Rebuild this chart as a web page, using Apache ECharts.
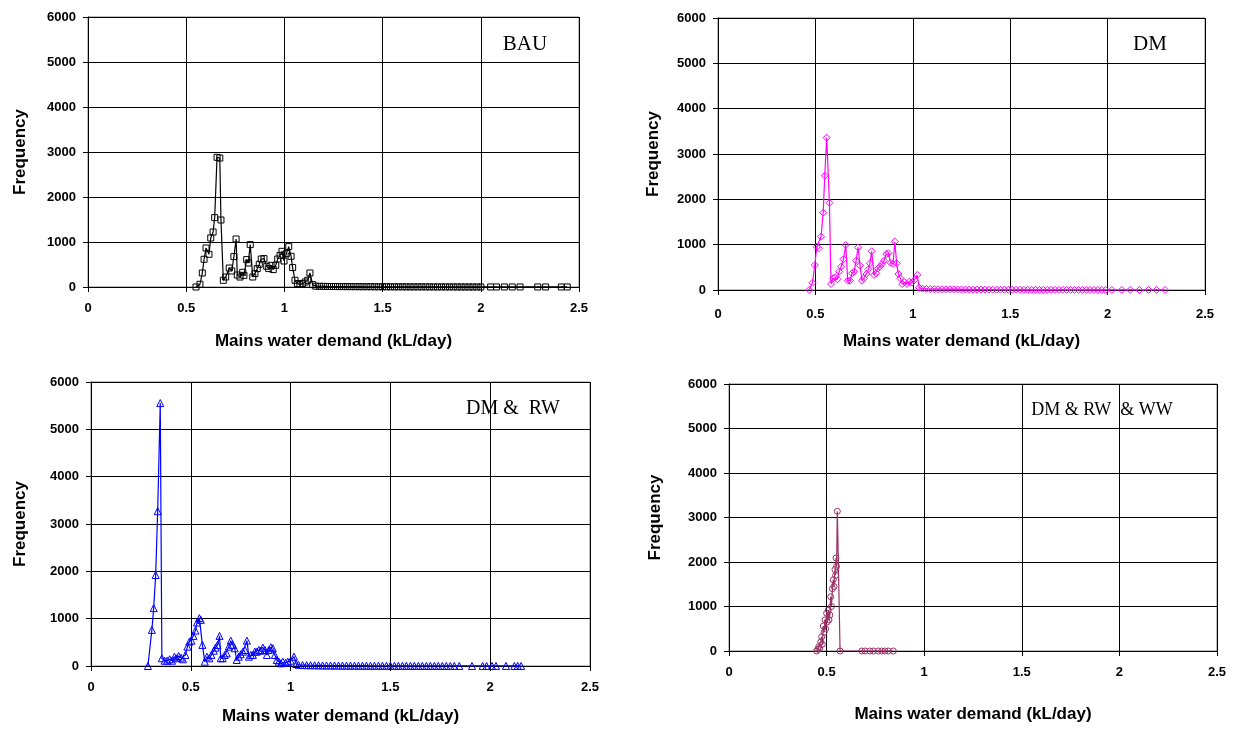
<!DOCTYPE html>
<html>
<head>
<meta charset="utf-8">
<script src="https://cdn.jsdelivr.net/npm/echarts@6/dist/echarts.min.js"></script>
<style>
  html, body { margin: 0; padding: 0; background: #fff; }
  #chart { width: 1238px; height: 729px; }
</style>
</head>
<body>
<div id="chart"></div>
<script>
// x ticks and y ticks shared by the four panels
let xTicks = [0, 0.5, 1, 1.5, 2, 2.5]
let yTicks = [0, 1000, 2000, 3000, 4000, 5000, 6000]

let panelNames = ['BAU', 'DM', 'DM &  RW', 'DM & RW  & WW']

// BAU  (kL/day, frequency)
let bauMain = [
    [0.550, 0], [0.570, 60], [0.582, 311], [0.591, 616], [0.601, 867], [0.616, 727], [0.625, 1089],
    [0.637, 1222], [0.645, 1542], [0.657, 2882], [0.671, 2866], [0.677, 1489], [0.689, 149],
    [0.701, 222], [0.719, 422], [0.732, 356], [0.743, 676], [0.754, 1067], [0.760, 267],
    [0.774, 222], [0.788, 327], [0.794, 260], [0.808, 609], [0.816, 533], [0.826, 942],
    [0.839, 222], [0.850, 298], [0.862, 409], [0.872, 504], [0.882, 622], [0.896, 631],
    [0.910, 460], [0.920, 409], [0.932, 482], [0.943, 387], [0.956, 482], [0.966, 622],
    [0.978, 704], [0.988, 793], [0.998, 578], [1.010, 742], [1.022, 898], [1.034, 682],
    [1.042, 431], [1.054, 149], [1.066, 76], [1.079, 60], [1.093, 76], [1.106, 111],
    [1.119, 149], [1.130, 311], [1.144, 53]
]
let bauTail = [
    [1.16, 18], [1.18, 15], [1.20, 14], [1.22, 12], [1.24, 11], [1.26, 10], [1.28, 9], [1.30, 9],
    [1.32, 8], [1.34, 8], [1.36, 7], [1.38, 7], [1.40, 6], [1.42, 6], [1.44, 6], [1.46, 5],
    [1.48, 5], [1.50, 5], [1.52, 5], [1.54, 4], [1.56, 4], [1.58, 4], [1.60, 4], [1.62, 3],
    [1.64, 3], [1.66, 3], [1.68, 3], [1.70, 3], [1.72, 3], [1.74, 2], [1.76, 2], [1.78, 2],
    [1.80, 2], [1.82, 2], [1.84, 2], [1.86, 2], [1.88, 2], [1.90, 1], [1.92, 1], [1.94, 1],
    [1.96, 1], [1.98, 1], [2.00, 1], [2.05, 1], [2.08, 1], [2.12, 1], [2.16, 1], [2.20, 1],
    [2.29, 1], [2.33, 1], [2.41, 1], [2.44, 1]
]

// DM
let dmMain = [
    [0.468, 0], [0.485, 161], [0.497, 551], [0.507, 955], [0.517, 919], [0.529, 1176], [0.540, 1705],
    [0.548, 2522], [0.558, 3360], [0.572, 1926], [0.580, 132], [0.591, 258], [0.601, 280],
    [0.613, 236], [0.622, 404], [0.632, 514], [0.644, 677], [0.656, 993], [0.666, 205],
    [0.678, 205], [0.688, 368], [0.699, 404], [0.709, 646], [0.719, 941], [0.729, 536],
    [0.739, 205], [0.749, 258], [0.762, 353], [0.772, 456], [0.780, 589], [0.789, 854],
    [0.801, 331], [0.811, 368], [0.822, 478], [0.832, 514], [0.842, 574], [0.852, 646],
    [0.864, 794], [0.875, 809], [0.886, 602], [0.898, 574], [0.908, 1066], [0.917, 589],
    [0.926, 353], [0.936, 258], [0.946, 132], [0.958, 170], [0.970, 132], [0.982, 183],
    [0.995, 161], [1.008, 220], [1.023, 331], [1.033, 50]
]
let dmTail = [
    [1.05, 30], [1.07, 25], [1.09, 22], [1.11, 20], [1.13, 18], [1.15, 16], [1.17, 15], [1.19, 14],
    [1.21, 13], [1.23, 12], [1.25, 11], [1.27, 10], [1.29, 10], [1.31, 9], [1.33, 9], [1.35, 8],
    [1.37, 8], [1.39, 7], [1.41, 7], [1.43, 6], [1.45, 6], [1.47, 6], [1.49, 5], [1.51, 5],
    [1.53, 5], [1.55, 5], [1.57, 4], [1.59, 4], [1.61, 4], [1.63, 4], [1.65, 3], [1.67, 3],
    [1.69, 3], [1.71, 3], [1.73, 3], [1.75, 2], [1.77, 2], [1.79, 2], [1.81, 2], [1.83, 2],
    [1.85, 2], [1.87, 2], [1.89, 1], [1.91, 1], [1.93, 1], [1.95, 1], [1.97, 1], [1.99, 1],
    [2.022, 1], [2.073, 1], [2.116, 1], [2.163, 1], [2.210, 1], [2.252, 1], [2.295, 1]
]

// DM & RW
let dmRwMain = [
    [0.285, 0], [0.305, 763], [0.314, 1223], [0.324, 1923], [0.334, 3271], [0.347, 5555],
    [0.355, 163], [0.369, 112], [0.382, 112], [0.394, 142], [0.406, 112], [0.418, 197],
    [0.429, 163], [0.439, 212], [0.451, 176], [0.461, 142], [0.473, 233], [0.483, 409],
    [0.493, 515], [0.503, 536], [0.513, 636], [0.523, 748], [0.531, 918], [0.543, 1011],
    [0.550, 975], [0.558, 445], [0.570, 91], [0.581, 197], [0.593, 163], [0.603, 233],
    [0.615, 324], [0.624, 388], [0.634, 445], [0.644, 636], [0.650, 163], [0.660, 163],
    [0.670, 233], [0.680, 269], [0.690, 409], [0.700, 536], [0.710, 445], [0.720, 375],
    [0.730, 127], [0.740, 197], [0.750, 248], [0.761, 303], [0.771, 339], [0.781, 536],
    [0.791, 197], [0.801, 233], [0.811, 233], [0.821, 303], [0.831, 303], [0.841, 339],
    [0.851, 324], [0.861, 388], [0.871, 339], [0.881, 233], [0.891, 339], [0.901, 396],
    [0.911, 375], [0.921, 233], [0.931, 127], [0.941, 91], [0.951, 57], [0.961, 91],
    [0.975, 70], [0.986, 91], [1.000, 112], [1.017, 197], [1.028, 42]
]
let dmRwTail = [
    [1.04, 25], [1.06, 20], [1.08, 18], [1.10, 16], [1.12, 15], [1.14, 14], [1.16, 12], [1.18, 11],
    [1.20, 10], [1.22, 10], [1.24, 9], [1.26, 8], [1.28, 8], [1.30, 7], [1.32, 7], [1.34, 6],
    [1.36, 6], [1.38, 6], [1.40, 5], [1.42, 5], [1.44, 5], [1.46, 4], [1.48, 4], [1.50, 4],
    [1.52, 4], [1.54, 3], [1.56, 3], [1.58, 3], [1.60, 3], [1.62, 3], [1.64, 2], [1.66, 2],
    [1.68, 2], [1.70, 2], [1.72, 2], [1.74, 2], [1.76, 1], [1.78, 1], [1.80, 1], [1.82, 1],
    [1.845, 1], [1.909, 1], [1.962, 1], [1.982, 1], [2.009, 1], [2.029, 1], [2.079, 1],
    [2.121, 1], [2.138, 1], [2.155, 1]
]

// DM & RW & WW
let dmRwWwMain = [
    [0.449, 0], [0.455, 40], [0.460, 100], [0.465, 60], [0.470, 200], [0.475, 320], [0.478, 150],
    [0.483, 560], [0.487, 420], [0.492, 700], [0.495, 500], [0.500, 850], [0.503, 650],
    [0.509, 920], [0.512, 700], [0.517, 810], [0.521, 1220], [0.525, 1000], [0.530, 1400],
    [0.534, 1600], [0.538, 1450], [0.543, 1830], [0.546, 1700], [0.548, 2090], [0.551, 1900],
    [0.555, 3140], [0.569, 0]
]
let dmRwWwTail = [
    [0.680, 0], [0.697, 0], [0.722, 0], [0.739, 0], [0.765, 0], [0.782, 0], [0.799, 0],
    [0.816, 0], [0.842, 0]
]

let seriesData = [
    bauMain.concat(bauTail),
    dmMain.concat(dmTail),
    dmRwMain.concat(dmRwTail),
    dmRwWwMain.concat(dmRwWwTail)
]

let colors = ['#000000', '#ff00ff', '#0000ff', '#993366']
let symbols = ['rect', 'diamond', 'triangle', 'circle']
let symbolSizes = [6, 7, 7, 6]

// layout of each panel (px)
let grids = [
    { left: 88, top: 17, width: 491, height: 270 },
    { left: 718, top: 18, width: 487, height: 272 },
    { left: 91, top: 382, width: 499, height: 284 },
    { left: 729, top: 384, width: 488, height: 267 }
]
let xNameGap = [46, 43, 42, 55]
let xLabelMargin = [15, 18, 15, 15]
let yNameGap = [59, 56, 62, 65]
// centre of each panel's text box
let labelPos = [[525, 44], [1150, 44], [513, 409], [1102, 410]]
let labelSize = [21, 21, 20, 18]

let font = '"Liberation Sans", Arial, sans-serif'

let option = {
    animation: false,
    backgroundColor: '#fff',
    grid: grids.map(g => Object.assign({ show: true, borderColor: '#808080', borderWidth: 1, backgroundColor: 'transparent' }, g)),
    xAxis: grids.map((g, i) => ({
        type: 'value',
        gridIndex: i,
        min: xTicks[0],
        max: xTicks[xTicks.length - 1],
        interval: 0.5,
        name: 'Mains water demand (kL/day)',
        nameLocation: 'middle',
        nameGap: xNameGap[i],
        nameTextStyle: { fontFamily: font, fontWeight: 'bold', fontSize: 17, color: '#000' },
        axisLine: { show: true, onZero: false, lineStyle: { color: '#000', width: 1 } },
        axisTick: { show: true, length: 5, lineStyle: { color: '#000' } },
        axisLabel: { fontFamily: font, fontWeight: 'bold', fontSize: 13, color: '#000', margin: xLabelMargin[i], formatter: v => String(v) },
        splitLine: { show: true, lineStyle: { color: '#000', width: 1 } }
    })),
    yAxis: grids.map((g, i) => ({
        type: 'value',
        gridIndex: i,
        min: yTicks[0],
        max: yTicks[yTicks.length - 1],
        interval: 1000,
        name: 'Frequency',
        nameLocation: 'middle',
        nameGap: yNameGap[i],
        nameTextStyle: { fontFamily: font, fontWeight: 'bold', fontSize: 17, color: '#000' },
        axisLine: { show: true, lineStyle: { color: '#000', width: 1 } },
        axisTick: { show: true, length: 5, lineStyle: { color: '#000' } },
        axisLabel: { fontFamily: font, fontWeight: 'bold', fontSize: 13, color: '#000', margin: 12, formatter: v => String(v) },
        splitLine: { show: true, lineStyle: { color: '#000', width: 1 } }
    })),
    series: seriesData.map((d, i) => ({
        type: 'line',
        name: panelNames[i],
        xAxisIndex: i,
        yAxisIndex: i,
        data: d,
        showAllSymbol: true,
        symbol: symbols[i],
        symbolSize: symbolSizes[i],
        lineStyle: { color: colors[i], width: 1.2 },
        itemStyle: { color: 'rgba(255,255,255,0)', borderColor: colors[i], borderWidth: 1 },
        emphasis: { disabled: true }
    })),
    graphic: panelNames.map((t, i) => ({
        type: 'text',
        x: labelPos[i][0],
        y: labelPos[i][1],
        style: {
            text: t,
            font: labelSize[i] + 'px "Liberation Serif", "Times New Roman", serif',
            fill: '#000',
            align: 'center',
            verticalAlign: 'middle'
        }
    }))
}

let EC = echarts.init(document.getElementById('chart'))
EC.setOption(option)
</script>
</body>
</html>
